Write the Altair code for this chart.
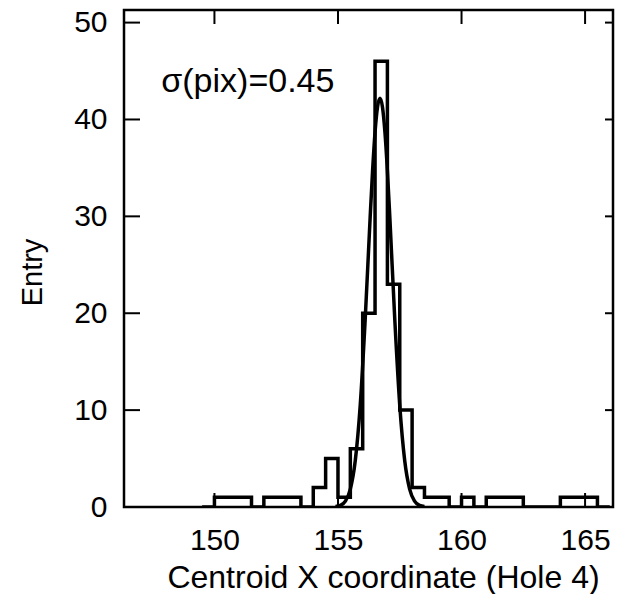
import altair as alt
import pandas as pd

# ---- data ----
bin_start = 149.5
bin_width = 0.5
counts = [0, 1, 1, 1, 0, 1, 1, 1, 0, 2, 5, 1, 6, 20, 46, 23, 10, 2, 1, 1, 0,
          1, 0, 1, 1, 1, 0, 0, 0, 1, 1, 1, 0]

curve_x = [154.9, 155.1, 155.3, 155.5, 155.7, 155.9, 156.1, 156.3, 156.4, 156.5,
           156.6, 156.7, 156.8, 156.9, 157.0, 157.1, 157.3, 157.5, 157.7, 157.9,
           158.1, 158.3, 158.5]
curve_y = [0.04, 0.16, 0.6, 1.85, 4.8, 10.5, 19.3, 29.8, 34.7, 38.7,
           41.3, 42.2, 41.3, 38.7, 34.7, 29.8, 19.3, 10.5, 4.8, 1.85,
           0.6, 0.16, 0.04]

x_ticks = [150, 155, 160, 165]
y_ticks = [0, 10, 20, 30, 40, 50]
x_domain = [146.34, 166.13]
y_domain = [0, 51.3]

label_text = ["σ(pix)=0.45"]
label_x = [147.85]
label_y = [42.8]

x_title = "Centroid X coordinate (Hole 4)"
y_title = "Entry"

# ---- tables ----
edges = [bin_start + i * bin_width for i in range(len(counts))]
hist = pd.DataFrame({"x": edges + [edges[-1] + bin_width], "y": counts + [0]})
curve = pd.DataFrame({"x": curve_x, "y": curve_y})
xt = pd.DataFrame({"x": x_ticks})
yt = pd.DataFrame({"y": y_ticks})
lab = pd.DataFrame({"x": label_x, "y": label_y, "t": label_text})

W, H = 489, 497
xs = alt.Scale(domain=x_domain, nice=False, zero=False)
ys = alt.Scale(domain=y_domain, nice=False, zero=False)

FONT = "Liberation Sans"

x_axis = alt.Axis(
    values=x_ticks, title=x_title, grid=False, domain=False, ticks=False,
    labelFont=FONT, labelFontSize=30, labelColor="black", labelPadding=18,
    titleFont=FONT, titleFontSize=32, titleFontWeight="normal", titleColor="black",
    titleX=259, titleY=70, titleBaseline="middle", titleAnchor="middle")
y_axis = alt.Axis(
    values=y_ticks, title=y_title, grid=False, domain=False, ticks=False,
    labelFont=FONT, labelFontSize=30, labelColor="black", labelPadding=17,
    titleFont=FONT, titleFontSize=29, titleFontWeight="normal", titleColor="black",
    titleX=-92, titleY=262, titleBaseline="middle", titleAngle=270,
    titleAnchor="middle")

hist_layer = alt.Chart(hist).mark_line(
    interpolate="step-after", color="black", strokeWidth=3.5, clip=True
).encode(
    x=alt.X("x:Q", scale=xs, axis=x_axis, title=x_title),
    y=alt.Y("y:Q", scale=ys, axis=y_axis, title=y_title),
)

curve_layer = alt.Chart(curve).mark_line(
    interpolate="monotone", color="black", strokeWidth=3.5, clip=True
).encode(
    x=alt.X("x:Q", scale=xs, title=x_title),
    y=alt.Y("y:Q", scale=ys, title=y_title),
)

left_ticks = alt.Chart(yt).mark_rule(color="black", strokeWidth=2).encode(
    y=alt.Y("y:Q", scale=ys, title=y_title), x=alt.value(0), x2=alt.value(16))
right_ticks = alt.Chart(yt).mark_rule(color="black", strokeWidth=2).encode(
    y=alt.Y("y:Q", scale=ys, title=y_title), x=alt.value(W - 8), x2=alt.value(W))
top_ticks = alt.Chart(xt).mark_rule(color="black", strokeWidth=2).encode(
    x=alt.X("x:Q", scale=xs, title=x_title), y=alt.value(0), y2=alt.value(14))
bottom_ticks = alt.Chart(xt).mark_rule(color="black", strokeWidth=2).encode(
    x=alt.X("x:Q", scale=xs, title=x_title), y=alt.value(H), y2=alt.value(H - 14))

text_layer = alt.Chart(lab).mark_text(
    align="left", baseline="alphabetic", font=FONT, fontSize=34, color="black"
).encode(
    x=alt.X("x:Q", scale=xs, title=x_title),
    y=alt.Y("y:Q", scale=ys, title=y_title),
    text="t:N",
)

chart = alt.layer(
    hist_layer, curve_layer, left_ticks, right_ticks, top_ticks, bottom_ticks, text_layer
).properties(
    width=W, height=H,
    autosize=alt.AutoSizeParams(type="none"),
    padding={"left": 124, "top": 10, "right": 7, "bottom": 87},
    background="white",
).configure_view(stroke="black", strokeWidth=2.5)

chart.save("out.html", embed_options={"renderer": "svg", "actions": False})
